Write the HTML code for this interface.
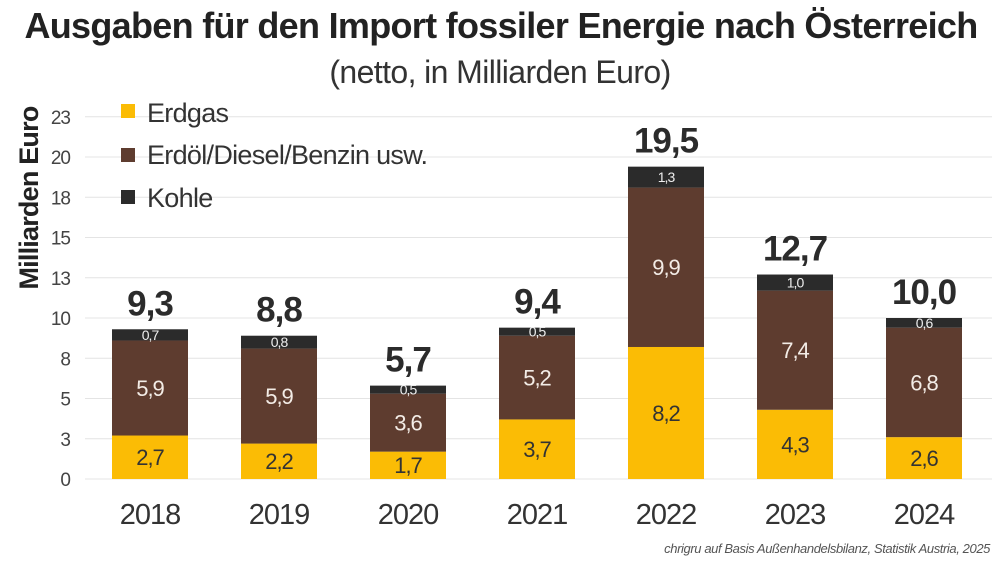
<!DOCTYPE html>
<html><head><meta charset="utf-8"><style>
body{margin:0;background:#fff;width:1000px;height:562px;overflow:hidden;font-family:"Liberation Sans",sans-serif}
svg text{font-family:"Liberation Sans",sans-serif}
</style></head><body>
<svg id="chart" width="1000" height="562">
<text x="501" y="38" text-anchor="middle" font-size="36" font-weight="bold" fill="#222" letter-spacing="-0.7">Ausgaben für den Import fossiler Energie nach Österreich</text>
<text x="500" y="83" text-anchor="middle" font-size="32" fill="#333" letter-spacing="-0.6">(netto, in Milliarden Euro)</text>
<text transform="translate(38,198) rotate(-90)" text-anchor="middle" font-size="27" font-weight="bold" fill="#222" letter-spacing="-0.8">Milliarden Euro</text>
<g id="grid"></g><g id="bars"></g>
<g>
<rect x="121" y="104" width="14" height="14" fill="#fbbc05"/>
<text x="147" y="122" font-size="27" fill="#333" letter-spacing="-0.7">Erdgas</text>
<rect x="121" y="148" width="14" height="14" fill="#5e3c2f"/>
<text x="147" y="164" font-size="27" fill="#333" letter-spacing="-0.7">Erdöl/Diesel/Benzin usw.</text>
<rect x="121" y="190" width="14" height="14" fill="#2b2b2b"/>
<text x="147" y="207" font-size="27" fill="#333" letter-spacing="-0.7">Kohle</text>
</g>
<text x="990" y="553" text-anchor="end" font-size="13" font-style="italic" fill="#555" letter-spacing="-0.4">chrigru auf Basis Außenhandelsbilanz, Statistik Austria, 2025</text>
</svg>
<script>
const years=["2018","2019","2020","2021","2022","2023","2024"];
const erdgas=[2.7,2.2,1.7,3.7,8.2,4.3,2.6];
const erdoel=[5.9,5.9,3.6,5.2,9.9,7.4,6.8];
const kohle=[0.7,0.8,0.5,0.5,1.3,1.0,0.6];
const totals=["9,3","8,8","5,7","9,4","19,5","12,7","10,0"];
const tickVals=[0,2.5,5,7.5,10,12.5,15,17.5,20,22.5];
const tickLabels=["0","3","5","8","10","13","15","18","20","23"];
const NS="http://www.w3.org/2000/svg";
const y=v=>479-v*16.1;
const x=i=>150+i*129;
const BW=76;
function mk(tag,at,parent){const e=document.createElementNS(NS,tag);for(const k in at)e.setAttribute(k,at[k]);parent.appendChild(e);return e;}
const grid=document.getElementById('grid'),bars=document.getElementById('bars');
tickVals.forEach((v,i)=>{
 const l=mk('line',{x1:85,x2:992,y1:y(v),y2:y(v),stroke:'#e4e4e4','stroke-width':1},grid);
 
 
 const t=mk('text',{x:70,y:y(v)+7,'text-anchor':'end','font-size':19,fill:'#444','letter-spacing':-1},grid);
 t.textContent=tickLabels[i];
 
 
});
const fmt=v=>v.toFixed(1).replace('.',',');
years.forEach((yr,i)=>{
 const segs=[[erdgas[i],'#fbbc05','#333',22,'erdgas'],[erdoel[i],'#5e3c2f','#f3ece6',22,'erdoel'],[kohle[i],'#2b2b2b','#eee',14,'kohle']];
 let base=0;
 segs.forEach(s=>{
  const r=mk('rect',{x:x(i)-BW/2,y:y(base+s[0]),width:BW,height:y(base)-y(base+s[0]),fill:s[1]},bars);
  
  
  const t=mk('text',{x:x(i),y:(y(base)+y(base+s[0]))/2+s[3]*0.36,'text-anchor':'middle','font-size':s[3],fill:s[2],'letter-spacing':-1},bars);
  t.textContent=fmt(s[0]);
  
  
  base+=s[0];
 });
 const tt=mk('text',{x:x(i),y:y(base)-14,'text-anchor':'middle','font-size':35,'font-weight':'bold',fill:'#2b2b2b','letter-spacing':-1},bars);
 tt.textContent=totals[i];
 
 
 const xl=mk('text',{x:x(i),y:524,'text-anchor':'middle','font-size':29,fill:'#333','letter-spacing':-1},bars);
 xl.textContent=yr;
 
 
});
</script>
</body></html>
